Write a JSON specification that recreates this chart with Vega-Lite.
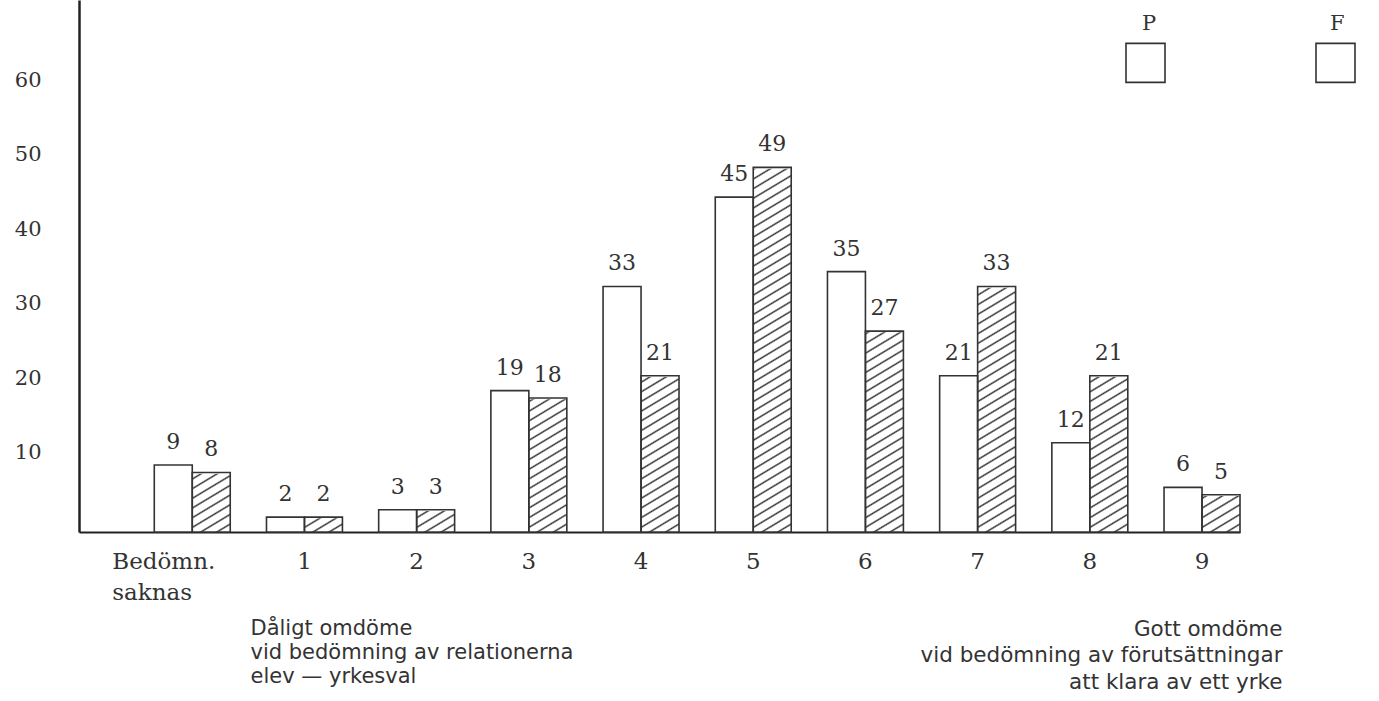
{
  "$schema": "https://vega.github.io/schema/vega-lite/v6.json",
  "width": 1161,
  "height": 532,
  "autosize": {"type": "none"},
  "padding": {"left": 79, "top": 0, "right": 139, "bottom": 169},
  "background": "white",
  "config": {"view": {"stroke": null}, "axis": {"grid": false}},
  "data": {
    "values": [
      {"cat": "Bedömn. saknas", "series": "P", "value": 9},
      {"cat": "Bedömn. saknas", "series": "F", "value": 8},
      {"cat": "1", "series": "P", "value": 2},
      {"cat": "1", "series": "F", "value": 2},
      {"cat": "2", "series": "P", "value": 3},
      {"cat": "2", "series": "F", "value": 3},
      {"cat": "3", "series": "P", "value": 19},
      {"cat": "3", "series": "F", "value": 18},
      {"cat": "4", "series": "P", "value": 33},
      {"cat": "4", "series": "F", "value": 21},
      {"cat": "5", "series": "P", "value": 45},
      {"cat": "5", "series": "F", "value": 49},
      {"cat": "6", "series": "P", "value": 35},
      {"cat": "6", "series": "F", "value": 27},
      {"cat": "7", "series": "P", "value": 21},
      {"cat": "7", "series": "F", "value": 33},
      {"cat": "8", "series": "P", "value": 12},
      {"cat": "8", "series": "F", "value": 21},
      {"cat": "9", "series": "P", "value": 6},
      {"cat": "9", "series": "F", "value": 5}
    ]
  },
  "encoding": {
    "x": {
      "field": "cat",
      "type": "nominal",
      "scale": {
        "domain": ["Bedömn. saknas", "1", "2", "3", "4", "5", "6", "7", "8", "9"],
        "paddingInner": 0.323,
        "paddingOuter": 0.3355,
        "align": 1
      },
      "axis": {
        "labelExpr": "datum.value === 'Bedömn. saknas' ? ['Bedömn.', 'saknas'] : datum.label",
        "labelFont": "DejaVu Serif",
        "labelFontSize": 23,
        "labelColor": "#333",
        "labelPadding": 18,
        "labelLineHeight": 31,
        "labelAngle": 0,
        "labelLimit": 300,
        "labelAlign": {"condition": {"test": "datum.value === 'Bedömn. saknas'", "value": "left"}, "value": "center"},
        "labelOffset": {"condition": {"test": "datum.value === 'Bedömn. saknas'", "value": -80}, "value": 0},
        "ticks": false,
        "tickSize": 0,
        "domainColor": "#222",
        "domainWidth": 2,
        "title": ["Dåligt omdöme", "vid bedömning av relationerna", "elev — yrkesval"],
        "titleX": 171,
        "titleY": 102,
        "titleAlign": "left",
        "titleBaseline": "alphabetic",
        "titleFont": "DejaVu Sans",
        "titleFontSize": 21,
        "titleFontWeight": "normal",
        "titleColor": "#333",
        "titleLineHeight": 24
      }
    },
    "xOffset": {
      "field": "series",
      "type": "nominal",
      "scale": {"domain": ["P", "F"], "paddingInner": 0, "paddingOuter": 0}
    }
  },
  "layer": [
    {
      "transform": [{"filter": "datum.series === 'F'"}],
      "mark": {
        "type": "bar",
        "strokeWidth": 0,
        "fill": {
          "gradient": "linear",
          "x1": 0.9611, "y1": 0.092, "x2": 1, "y2": 1,
          "stops": [
            {"offset": 0, "color": "#fff"},
            {"offset": 0.16, "color": "#fff"}, {"offset": 0.1635, "color": "#333"}, {"offset": 0.167, "color": "#fff"},
            {"offset": 0.18, "color": "#fff"}, {"offset": 0.1835, "color": "#333"}, {"offset": 0.187, "color": "#fff"},
            {"offset": 0.2, "color": "#fff"}, {"offset": 0.2035, "color": "#333"}, {"offset": 0.207, "color": "#fff"},
            {"offset": 0.22, "color": "#fff"}, {"offset": 0.2235, "color": "#333"}, {"offset": 0.227, "color": "#fff"},
            {"offset": 0.24, "color": "#fff"}, {"offset": 0.2435, "color": "#333"}, {"offset": 0.247, "color": "#fff"},
            {"offset": 0.26, "color": "#fff"}, {"offset": 0.2635, "color": "#333"}, {"offset": 0.267, "color": "#fff"},
            {"offset": 0.28, "color": "#fff"}, {"offset": 0.2835, "color": "#333"}, {"offset": 0.287, "color": "#fff"},
            {"offset": 0.3, "color": "#fff"}, {"offset": 0.3035, "color": "#333"}, {"offset": 0.307, "color": "#fff"},
            {"offset": 0.32, "color": "#fff"}, {"offset": 0.3235, "color": "#333"}, {"offset": 0.327, "color": "#fff"},
            {"offset": 0.34, "color": "#fff"}, {"offset": 0.3435, "color": "#333"}, {"offset": 0.347, "color": "#fff"},
            {"offset": 0.36, "color": "#fff"}, {"offset": 0.3635, "color": "#333"}, {"offset": 0.367, "color": "#fff"},
            {"offset": 0.38, "color": "#fff"}, {"offset": 0.3835, "color": "#333"}, {"offset": 0.387, "color": "#fff"},
            {"offset": 0.4, "color": "#fff"}, {"offset": 0.4035, "color": "#333"}, {"offset": 0.407, "color": "#fff"},
            {"offset": 0.42, "color": "#fff"}, {"offset": 0.4235, "color": "#333"}, {"offset": 0.427, "color": "#fff"},
            {"offset": 0.44, "color": "#fff"}, {"offset": 0.4435, "color": "#333"}, {"offset": 0.447, "color": "#fff"},
            {"offset": 0.46, "color": "#fff"}, {"offset": 0.4635, "color": "#333"}, {"offset": 0.467, "color": "#fff"},
            {"offset": 0.48, "color": "#fff"}, {"offset": 0.4835, "color": "#333"}, {"offset": 0.487, "color": "#fff"},
            {"offset": 0.5, "color": "#fff"}, {"offset": 0.5035, "color": "#333"}, {"offset": 0.507, "color": "#fff"},
            {"offset": 0.52, "color": "#fff"}, {"offset": 0.5235, "color": "#333"}, {"offset": 0.527, "color": "#fff"},
            {"offset": 0.54, "color": "#fff"}, {"offset": 0.5435, "color": "#333"}, {"offset": 0.547, "color": "#fff"},
            {"offset": 0.56, "color": "#fff"}, {"offset": 0.5635, "color": "#333"}, {"offset": 0.567, "color": "#fff"},
            {"offset": 0.58, "color": "#fff"}, {"offset": 0.5835, "color": "#333"}, {"offset": 0.587, "color": "#fff"},
            {"offset": 0.6, "color": "#fff"}, {"offset": 0.6035, "color": "#333"}, {"offset": 0.607, "color": "#fff"},
            {"offset": 0.62, "color": "#fff"}, {"offset": 0.6235, "color": "#333"}, {"offset": 0.627, "color": "#fff"},
            {"offset": 0.64, "color": "#fff"}, {"offset": 0.6435, "color": "#333"}, {"offset": 0.647, "color": "#fff"},
            {"offset": 0.66, "color": "#fff"}, {"offset": 0.6635, "color": "#333"}, {"offset": 0.667, "color": "#fff"},
            {"offset": 0.68, "color": "#fff"}, {"offset": 0.6835, "color": "#333"}, {"offset": 0.687, "color": "#fff"},
            {"offset": 0.7, "color": "#fff"}, {"offset": 0.7035, "color": "#333"}, {"offset": 0.707, "color": "#fff"},
            {"offset": 0.72, "color": "#fff"}, {"offset": 0.7235, "color": "#333"}, {"offset": 0.727, "color": "#fff"},
            {"offset": 0.74, "color": "#fff"}, {"offset": 0.7435, "color": "#333"}, {"offset": 0.747, "color": "#fff"},
            {"offset": 0.76, "color": "#fff"}, {"offset": 0.7635, "color": "#333"}, {"offset": 0.767, "color": "#fff"},
            {"offset": 0.78, "color": "#fff"}, {"offset": 0.7835, "color": "#333"}, {"offset": 0.787, "color": "#fff"},
            {"offset": 0.8, "color": "#fff"}, {"offset": 0.8035, "color": "#333"}, {"offset": 0.807, "color": "#fff"},
            {"offset": 0.82, "color": "#fff"}, {"offset": 0.8235, "color": "#333"}, {"offset": 0.827, "color": "#fff"},
            {"offset": 0.84, "color": "#fff"}, {"offset": 0.8435, "color": "#333"}, {"offset": 0.847, "color": "#fff"},
            {"offset": 0.86, "color": "#fff"}, {"offset": 0.8635, "color": "#333"}, {"offset": 0.867, "color": "#fff"},
            {"offset": 0.88, "color": "#fff"}, {"offset": 0.8835, "color": "#333"}, {"offset": 0.887, "color": "#fff"},
            {"offset": 0.9, "color": "#fff"}, {"offset": 0.9035, "color": "#333"}, {"offset": 0.907, "color": "#fff"},
            {"offset": 0.92, "color": "#fff"}, {"offset": 0.9235, "color": "#333"}, {"offset": 0.927, "color": "#fff"},
            {"offset": 0.94, "color": "#fff"}, {"offset": 0.9435, "color": "#333"}, {"offset": 0.947, "color": "#fff"},
            {"offset": 0.96, "color": "#fff"}, {"offset": 0.9635, "color": "#333"}, {"offset": 0.967, "color": "#fff"},
            {"offset": 0.98, "color": "#fff"}, {"offset": 0.9835, "color": "#333"}, {"offset": 0.987, "color": "#fff"},
            {"offset": 1, "color": "#fff"}
          ]
        }
      },
      "encoding": {
        "y": {"datum": 71.5, "type": "quantitative", "scale": {"domain": [0, 71.5], "nice": false, "zero": true}}
      }
    },
    {
      "transform": [{"filter": "datum.series === 'F'"}],
      "mark": {"type": "bar", "fill": "white", "stroke": "white", "strokeWidth": 2.5},
      "encoding": {
        "y": {"field": "value", "type": "quantitative", "stack": null, "scale": {"domain": [0, 71.5], "nice": false, "zero": true}},
        "y2": {"datum": 71.5}
      }
    },
    {
      "mark": {"type": "bar", "strokeWidth": 1.6},
      "encoding": {
        "y": {
          "field": "value",
          "type": "quantitative",
          "stack": null,
          "scale": {"domain": [0, 71.5], "nice": false, "zero": true},
          "axis": {
            "values": [10, 20, 30, 40, 50, 60],
            "labelFont": "DejaVu Serif",
            "labelFontSize": 21,
            "labelColor": "#333",
            "labelPadding": 38,
            "labelOffset": -5,
            "ticks": false,
            "tickSize": 0,
            "domainColor": "#222",
            "domainWidth": 2.5,
            "title": ["Gott omdöme", "vid bedömning av förutsättningar", "att klara av ett yrke"],
            "titleAngle": 0,
            "titleX": 1203,
            "titleY": 635,
            "titleAlign": "right",
            "titleBaseline": "alphabetic",
            "titleFont": "DejaVu Sans",
            "titleFontSize": 21.5,
            "titleFontWeight": "normal",
            "titleColor": "#333",
            "titleLineHeight": 26.5
          }
        },
        "fill": {
          "condition": {"test": "datum.series === 'P'", "value": "white"},
          "value": "transparent"
        },
        "stroke": {
          "field": "series",
          "type": "nominal",
          "scale": {"domain": ["P", "F"], "range": ["#333", "#333"]},
          "legend": {
            "orient": "none",
            "legendX": 1046,
            "legendY": 42,
            "direction": "horizontal",
            "title": null,
            "symbolType": "square",
            "symbolSize": 1521,
            "symbolStrokeWidth": 1.6,
            "columnPadding": 143,
            "labelExpr": "''",
            "labelOffset": 0
          }
        }
      }
    },
    {
      "mark": {"type": "text", "font": "DejaVu Serif", "fontSize": 22, "color": "#333", "baseline": "alphabetic", "dy": -16},
      "encoding": {
        "y": {"field": "value", "type": "quantitative", "scale": {"domain": [0, 71.5], "nice": false, "zero": true}},
        "text": {"field": "value", "type": "quantitative"},
        "opacity": {
          "field": "series",
          "type": "nominal",
          "sort": "descending",
          "scale": {"range": [1, 1]},
          "legend": {
            "orient": "none",
            "legendX": 1042,
            "legendY": 2,
            "direction": "horizontal",
            "title": null,
            "symbolType": "square",
            "symbolSize": 0,
            "symbolStrokeWidth": 0,
            "columnPadding": 152,
            "labelFont": "DejaVu Serif",
            "labelFontSize": 21,
            "labelColor": "#333",
            "labelAlign": "left",
            "labelBaseline": "top",
            "labelOffset": 0
          }
        },
        "fillOpacity": {
          "field": "cat",
          "type": "nominal",
          "scale": {"range": [1, 1]},
          "legend": {
            "orient": "none",
            "legendX": 961,
            "legendY": 96,
            "direction": "horizontal",
            "title": ["M=5, 28", "s=1. 97", "N= 176"],
            "titleFont": "DejaVu Serif",
            "titleFontSize": 21,
            "titleFontWeight": "normal",
            "titleColor": "#333",
            "titleLineHeight": 33,
            "titleAlign": "left",
            "titleAnchor": "start",
            "titleBaseline": "top",
            "titleLimit": 300,
            "titlePadding": 0,
            "symbolType": "square",
            "symbolSize": 0,
            "symbolStrokeWidth": 0,
            "columnPadding": 0,
            "labelExpr": "''"
          }
        },
        "strokeOpacity": {
          "field": "value",
          "type": "nominal",
          "scale": {"range": [1, 1]},
          "legend": {
            "orient": "none",
            "legendX": 1173,
            "legendY": 96,
            "direction": "horizontal",
            "title": ["M=5. 57", "s=2.02", "N= 179"],
            "titleFont": "DejaVu Serif",
            "titleFontSize": 21,
            "titleFontWeight": "normal",
            "titleColor": "#333",
            "titleLineHeight": 33,
            "titleAlign": "left",
            "titleAnchor": "start",
            "titleBaseline": "top",
            "titleLimit": 300,
            "titlePadding": 0,
            "symbolType": "square",
            "symbolSize": 0,
            "symbolStrokeWidth": 0,
            "columnPadding": 0,
            "labelExpr": "''"
          }
        }
      }
    }
  ]
}
